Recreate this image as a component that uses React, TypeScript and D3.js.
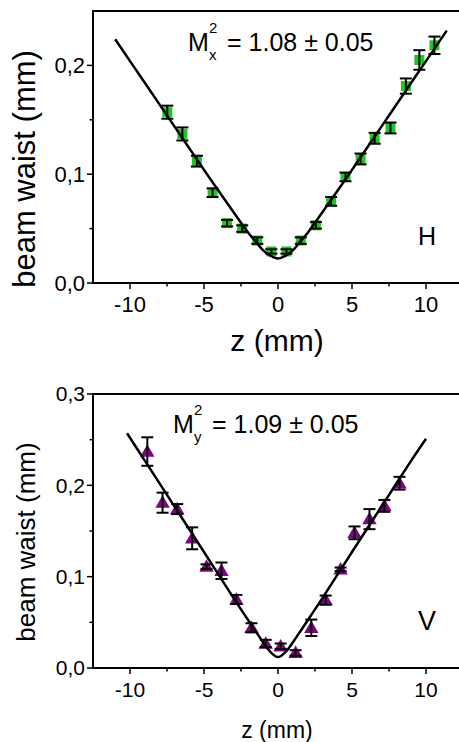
import React from 'react';
import * as d3 from 'd3';

// horizontal (H) measurement
const hZ = [-7.48, -6.46, -5.48, -4.42, -3.44, -2.42, -1.4, -0.45, 0.57, 1.54, 2.56, 3.59, 4.56, 5.58, 6.53, 7.6, 8.64, 9.55, 10.57];
const hW = [0.157, 0.137, 0.112, 0.083, 0.055, 0.05, 0.039, 0.029, 0.029, 0.039, 0.053, 0.075, 0.0975, 0.114, 0.133, 0.1425, 0.181, 0.205, 0.2185];
const hErr = [0.006, 0.006, 0.005, 0.004, 0.003, 0.003, 0.003, 0.002, 0.002, 0.003, 0.003, 0.004, 0.004, 0.005, 0.005, 0.005, 0.007, 0.009, 0.008];
const hFitZ = [-11, -9, -7, -5, -3, -2, -1.5, -1, -0.5, 0, 0.5, 1, 1.5, 2, 3, 5, 7, 9, 11.4];
const hFitW = [0.224, 0.184, 0.144, 0.104, 0.065, 0.046, 0.038, 0.03, 0.025, 0.0225, 0.025, 0.03, 0.038, 0.046, 0.065, 0.104, 0.144, 0.184, 0.232];

// vertical (V) measurement
const vZ = [-8.83, -7.8, -6.81, -5.8, -4.83, -3.82, -2.81, -1.79, -0.83, 0.18, 1.19, 2.25, 3.22, 4.23, 5.17, 6.18, 7.19, 8.21];
const vW = [0.237, 0.181, 0.174, 0.142, 0.111, 0.1065, 0.075, 0.044, 0.0268, 0.0238, 0.0165, 0.044, 0.0743, 0.108, 0.148, 0.163, 0.1775, 0.2023];
const vErr = [0.0156, 0.011, 0.0055, 0.012, 0.0025, 0.009, 0.005, 0.005, 0.004, 0.003, 0.003, 0.009, 0.005, 0.002, 0.007, 0.011, 0.0065, 0.007];
const vFitZ = [-10.2, -9, -7, -5, -3, -2, -1.5, -1, -0.5, 0, 0.5, 1, 1.5, 2, 3, 5, 7, 9, 10];
const vFitW = [0.257, 0.227, 0.177, 0.127, 0.0765, 0.052, 0.04, 0.028, 0.0174, 0.012, 0.0174, 0.028, 0.04, 0.052, 0.0765, 0.127, 0.177, 0.227, 0.251];

const xTicks = [-10, -5, 0, 5, 10];
const xMinor = [-7.5, -2.5, 2.5, 7.5];
const hYTicks = [0, 0.1, 0.2];
const hYMinor = [0.05, 0.15];
const vYTicks = [0, 0.1, 0.2, 0.3];
const vYMinor = [0.05, 0.15, 0.25];

const FONT = 'Liberation Sans, Arial, sans-serif';
const fmt = (v: number) => d3.format('.1f')(v).replace('.', ',');

function Panel(props: any) {
  const { top, bottom, yMax, z, w, err, fitZ, fitW, yTicks, yMinor, marker, color,
    tickFont, labelFont, yLabelFont, yLabelY, xLabelY, tickY, title, sub, titleX, titleY, titleFont, tag, tagY, tagFont } = props;
  const left = 93;
  const x = d3.scaleLinear().domain([-12.5, 12.5]).range([left, left + 370]);
  const y = d3.scaleLinear().domain([0, yMax]).range([bottom, top]);
  const line = d3.line<number>().x((d, i) => x(fitZ[i])).y(d => y(d)).curve(d3.curveCatmullRom.alpha(0.5));

  return (
    <g fontFamily={FONT}>
      <defs>
        <clipPath id={'clip' + tag}>
          <rect x={left} y={top} width={370} height={bottom - top} />
        </clipPath>
      </defs>
      <g clipPath={`url(#clip${tag})`}>
        {z.map((zz: number, i: number) => {
          const cx = x(zz), cy = y(w[i]);
          if (marker === 'square') {
            return <rect key={'m' + i} x={cx - 5} y={cy - 5} width={10} height={10} fill={color} />;
          }
          return <path key={'m' + i} d={d3.symbol(d3.symbolTriangle, 90)() as string} transform={`translate(${cx},${cy + 1})`} fill={color} />;
        })}
        {z.map((zz: number, i: number) => {
          const cx = x(zz), y1 = y(w[i] + err[i]), y2 = y(w[i] - err[i]);
          return (
            <g key={'e' + i} stroke="#000" strokeWidth={2}>
              <line x1={cx} x2={cx} y1={y1} y2={y2} />
              <line x1={cx - 6} x2={cx + 6} y1={y1} y2={y1} />
              <line x1={cx - 6} x2={cx + 6} y1={y2} y2={y2} />
            </g>
          );
        })}
        <path d={line(fitW) as string} fill="none" stroke="#000" strokeWidth={2.5} />
      </g>
      {/* frame */}
      <rect x={left} y={top} width={370} height={bottom - top} fill="none" stroke="#000" strokeWidth={2} />
      {xTicks.map(t => (
        <g key={'xt' + t}>
          <line x1={x(t)} x2={x(t)} y1={bottom} y2={bottom + 6} stroke="#000" strokeWidth={1.5} />
          <text x={x(t)} y={tickY} textAnchor="middle" fontSize={tickFont}>{t}</text>
        </g>
      ))}
      {xMinor.map(t => (
        <line key={'xm' + t} x1={x(t)} x2={x(t)} y1={bottom} y2={bottom + 3.5} stroke="#000" strokeWidth={1.5} />
      ))}
      {yTicks.map((t: number) => (
        <g key={'yt' + t}>
          <line x1={left - 6} x2={left} y1={y(t)} y2={y(t)} stroke="#000" strokeWidth={1.5} />
          <text x={left - 8} y={y(t)} dy="0.35em" textAnchor="end" fontSize={tickFont}>{fmt(t)}</text>
        </g>
      ))}
      {yMinor.map((t: number) => (
        <line key={'ym' + t} x1={left - 3.5} x2={left} y1={y(t)} y2={y(t)} stroke="#000" strokeWidth={1.5} />
      ))}
      <text x={277} y={xLabelY} textAnchor="middle" fontSize={labelFont}>z (mm)</text>
      <text transform={`translate(35,${yLabelY}) rotate(-90)`} textAnchor="middle" fontSize={yLabelFont}>beam waist (mm)</text>
      <text x={titleX} y={titleY} fontSize={titleFont}>M</text>
      <text x={titleX + 21} y={titleY - 18} fontSize={15}>2</text>
      <text x={titleX + 21} y={titleY + 9} fontSize={15}>{sub}</text>
      <text x={titleX + 39} y={titleY} fontSize={titleFont}>{title}</text>
      <text x={418} y={tagY} fontSize={tagFont}>{tag}</text>
    </g>
  );
}

export default function App() {
  return (
    <svg width={459} height={742} style={{ position: 'absolute', left: 0, top: 0, background: '#fff' }}>
      <Panel top={11} bottom={283} yMax={0.25} z={hZ} w={hW} err={hErr} fitZ={hFitZ} fitW={hFitW}
        yTicks={hYTicks} yMinor={hYMinor} marker="square" color="#1ec81e"
        tickFont={22} labelFont={30} yLabelFont={31} yLabelY={169} xLabelY={351} tickY={312}
        title="= 1.08 ± 0.05" sub="x" titleX={188} titleY={51} titleFont={25}
        tag="H" tagY={245} tagFont={25} />
      <Panel top={394} bottom={668} yMax={0.3} z={vZ} w={vW} err={vErr} fitZ={vFitZ} fitW={vFitW}
        yTicks={vYTicks} yMinor={vYMinor} marker="triangle" color="#7d087d"
        tickFont={21} labelFont={23} yLabelFont={26} yLabelY={542} xLabelY={738} tickY={697}
        title="= 1.09 ± 0.05" sub="y" titleX={173} titleY={433} titleFont={25}
        tag="V" tagY={630} tagFont={27} />
    </svg>
  );
}
